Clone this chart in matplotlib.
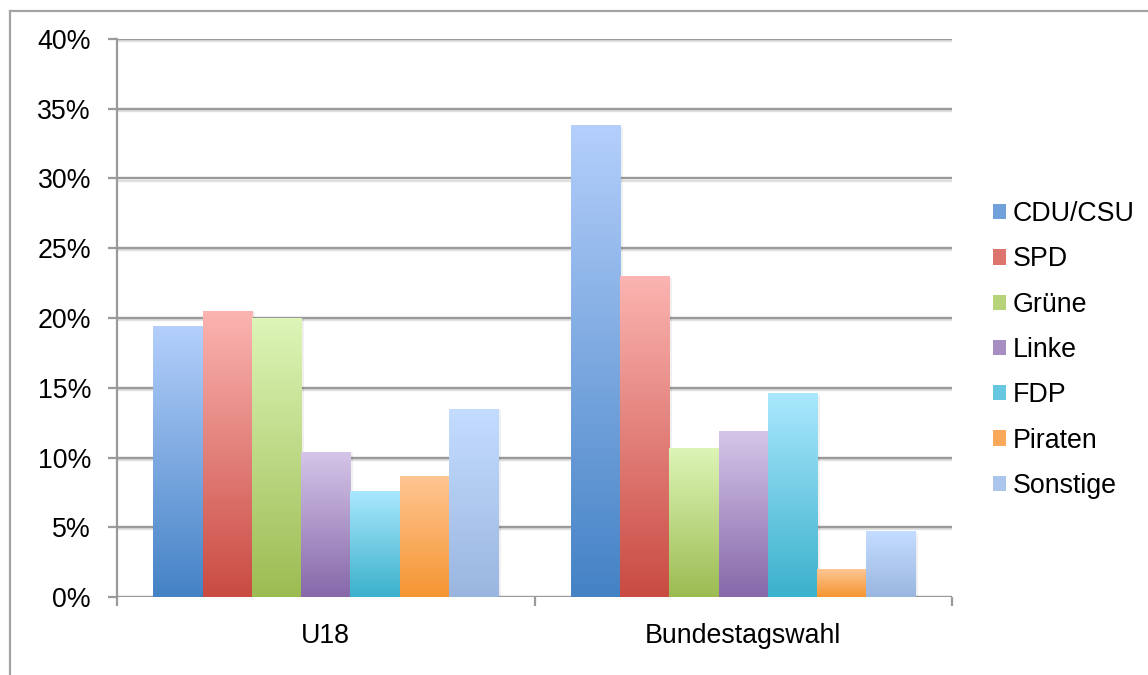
import matplotlib
matplotlib.use("Agg")
import matplotlib.pyplot as plt
import numpy as np
from matplotlib.colors import LinearSegmentedColormap
from matplotlib.patches import Patch
import matplotlib.patheffects as pe
from matplotlib.lines import Line2D

# ---- data ----
categories = ["U18", "Bundestagswahl"]
parties = ["CDU/CSU", "SPD", "Grüne", "Linke", "FDP", "Piraten", "Sonstige"]
cdu = [19.4, 33.8]
spd = [20.5, 23.0]
gruene = [20.0, 10.7]
linke = [10.4, 11.9]
fdp = [7.6, 14.6]
piraten = [8.7, 2.0]
sonstige = [13.5, 4.7]
yticks = [0, 5, 10, 15, 20, 25, 30, 35, 40]

series = [cdu, spd, gruene, linke, fdp, piraten, sonstige]
tops = ["#b4cffb", "#fbb4b1", "#ddf5b7", "#d5c6e9", "#aae8fd", "#ffc693", "#c4dcff"]
bottoms = ["#4482c5", "#c94b42", "#9cbc52", "#8668a9", "#3bb1cc", "#f59532", "#9ab6df"]

plt.rcParams["font.family"] = ["Liberation Sans", "DejaVu Sans"]
W, H = 1148, 675
FS = 19.3
fig = plt.figure(figsize=(W / 100, H / 100), dpi=100)

# outer chart frame (top and left edges visible)
fig.add_artist(Line2D([10 / W, 10 / W], [0, 1 - 11 / H], color="#a3a3a3", lw=1.6))
fig.add_artist(Line2D([10 / W, 1], [1 - 11 / H, 1 - 11 / H], color="#a3a3a3", lw=1.6))

ax = fig.add_axes([117 / W, 1 - 597 / H, (952 - 117) / W, (597 - 39) / H])
ax.set_xlim(-0.5, 1.5)
ax.set_ylim(0, 40)

# grid lines
for t in yticks:
    ax.axhline(t, color="#9a9a9a", lw=1.7, zorder=1,
               path_effects=[pe.SimpleLineShadow(offset=(0, -1.5), shadow_color="#9a9a9a", alpha=0.3),
                             pe.Normal()])

n = len(series)
bw = 0.118
x = np.arange(len(categories))
for i, (vals, ct, cb) in enumerate(zip(series, tops, bottoms)):
    offs = (i - (n - 1) / 2) * bw
    bars = ax.bar(x + offs, vals, width=bw, color=cb, zorder=2, linewidth=0,
                  path_effects=[pe.SimplePatchShadow(offset=(2, -1), shadow_rgbFace="#000000", alpha=0.06),
                                pe.Normal()])
    cmap = LinearSegmentedColormap.from_list(f"g{i}", [cb, ct])
    grad = np.linspace(0, 1, 256).reshape(-1, 1)
    for b in bars:
        bx, by = b.get_x(), b.get_y()
        bwid, bh = b.get_width(), b.get_height()
        im = ax.imshow(grad, cmap=cmap, origin="lower", aspect="auto",
                       extent=(bx, bx + bwid, by, by + bh), zorder=3)
        im.set_clip_path(b)

ax.set_xlim(-0.5, 1.5)
ax.set_ylim(0, 40)

ax.set_yticks(yticks)
ax.set_yticklabels([f"{t}%" for t in yticks])
ax.set_xticks(x)
ax.set_xticklabels(categories)
ax.set_xticks([-0.5, 0.5, 1.5], minor=True)
ax.tick_params(axis="x", which="major", length=0, pad=19, labelsize=FS)
ax.tick_params(axis="x", which="minor", length=6.5, width=1.6, color="#9a9a9a", direction="out")
ax.tick_params(axis="y", length=6.5, width=1.6, color="#9a9a9a", pad=12.2, labelsize=FS, direction="out")

for s in ["top", "right", "bottom"]:
    ax.spines[s].set_visible(False)
ax.spines["left"].set_color("#9a9a9a")
ax.spines["left"].set_linewidth(1.6)
ax.spines["left"].set_zorder(4)

mid = []
for ct, cb in zip(tops, bottoms):
    a = np.array(matplotlib.colors.to_rgb(ct)); b = np.array(matplotlib.colors.to_rgb(cb))
    mid.append(tuple(0.4 * a + 0.6 * b))
handles = [Patch(facecolor=m, edgecolor="none") for m in mid]
fig.legend(handles, parties, loc="center left", bbox_to_anchor=(993 / W, 1 - 350 / H),
           frameon=False, fontsize=FS, handlelength=0.5, handleheight=0.5,
           handletextpad=0.25, labelspacing=0.72, borderpad=0, borderaxespad=0)

fig.savefig("out.png", dpi=100)
